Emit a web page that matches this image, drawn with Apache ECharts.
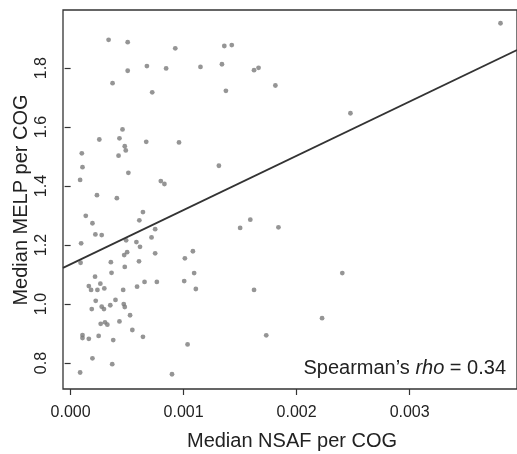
<!DOCTYPE html>
<html>
<head>
<meta charset="utf-8">
<script src="https://cdn.jsdelivr.net/npm/echarts@6/dist/echarts.min.js"></script>
<style>html,body{margin:0;padding:0;background:#fff}#c{width:517px;height:454px}</style>
</head>
<body>
<div id="c"></div>
<script>
// Median NSAF per COG (x) and Median MELP per COG (y)
const nsaf = [0.000336,0.000505,0.000926,0.001360,0.001426,0.000675,0.000505,0.000845,0.001149,0.001339,
0.001623,0.001663,0.000371,0.000722,0.001374,0.001812,0.000459,0.000254,0.000432,0.000669,
0.000959,0.000479,0.000488,0.000099,0.000424,0.000105,0.001312,0.000511,0.000084,0.000798,
0.000830,0.000233,0.000409,0.000134,0.000193,0.000640,0.000608,0.000748,0.000219,0.000275,
0.000093,0.000491,0.000582,0.000716,0.000614,0.000500,0.000474,0.000748,0.000088,0.000356,
0.000605,0.001011,0.001082,0.001500,0.001590,0.001839,0.000479,0.000362,0.001093,0.000216,
0.000161,0.000181,0.000237,0.000263,0.000298,0.000465,0.000588,0.000654,0.000763,0.001005,
0.001108,0.001623,0.000222,0.000397,0.000187,0.000275,0.000295,0.000351,0.000470,0.000479,
0.000526,0.000266,0.000304,0.000325,0.000432,0.000546,0.000105,0.000105,0.000161,0.000248,
0.000377,0.000640,0.001035,0.001731,0.000193,0.000368,0.000084,0.000897,0.003804,0.002476,
0.002404,0.002225];
const melp = [1.896,1.888,1.867,1.875,1.878,1.807,1.791,1.799,1.804,1.813,
1.793,1.801,1.749,1.718,1.723,1.741,1.592,1.558,1.562,1.550,
1.548,1.535,1.521,1.511,1.503,1.464,1.469,1.445,1.421,1.417,
1.407,1.369,1.359,1.299,1.274,1.312,1.284,1.254,1.236,1.234,
1.206,1.216,1.210,1.226,1.194,1.176,1.166,1.172,1.140,1.142,
1.145,1.155,1.179,1.258,1.286,1.260,1.126,1.106,1.105,1.093,
1.061,1.048,1.048,1.069,1.053,1.048,1.059,1.075,1.075,1.078,
1.051,1.048,1.011,1.014,0.983,0.991,0.983,0.996,1.000,0.990,
0.962,0.933,0.938,0.930,0.941,0.912,0.895,0.885,0.882,0.892,
0.878,0.889,0.863,0.894,0.816,0.796,0.768,0.762,1.952,1.647,
1.105,0.952];
// Linear fit: intercept, slope
const fitIntercept = 1.135;
const fitSlope = 183.8;
const xTicks = [0, 0.001, 0.002, 0.003];
const yTicks = [0.8, 1.0, 1.2, 1.4, 1.6, 1.8];
const rhoText = '0.34';

const xMin = -0.0000675, xMax = 0.003950;
const yMin = 0.712, yMax = 1.997;

const pts = nsaf.map((x, i) => [x, melp[i]]);
const fitLine = [[xMin, fitIntercept + fitSlope * xMin], [xMax, fitIntercept + fitSlope * xMax]];

const chart = echarts.init(document.getElementById('c'), null, {renderer: 'canvas'});
const FONT = 'Liberation Sans, Arial, Helvetica, sans-serif';
chart.setOption({
  animation: false,
  backgroundColor: '#fff',
  grid: {left: 63, top: 10, width: 458, height: 379, show: true, borderColor: '#333', borderWidth: 1.3, backgroundColor: 'transparent'},
  xAxis: {
    type: 'value', min: xMin, max: xMax,
    axisLine: {show: false},
    splitLine: {show: false},
    axisTick: {show: true, inside: false, length: 6, lineStyle: {color: '#333', width: 1.2}, customValues: xTicks},
    axisLabel: {customValues: xTicks, formatter: v => v.toFixed(3), margin: 16, fontSize: 16, color: '#222', fontFamily: FONT}
  },
  yAxis: {
    type: 'value', min: yMin, max: yMax,
    axisLine: {show: false},
    splitLine: {show: false},
    axisTick: {show: true, inside: false, length: 6, lineStyle: {color: '#333', width: 1.2}, customValues: yTicks},
    axisLabel: {customValues: yTicks, formatter: v => v.toFixed(1), rotate: 90, margin: 13, fontSize: 16, color: '#222', fontFamily: FONT}
  },
  graphic: [
    {type: 'text', x: 292, y: 441, style: {text: 'Median NSAF per COG', font: '20px ' + FONT, fill: '#222', textAlign: 'center', textVerticalAlign: 'middle'}},
    {type: 'text', x: 21, y: 200, rotation: Math.PI / 2, style: {text: 'Median MELP per COG', font: '20px ' + FONT, fill: '#222', textAlign: 'center', textVerticalAlign: 'middle'}},
    {type: 'text', right: 11, top: 358, style: {
      text: '{a|Spearman\u2019s }{b|rho}{a| = ' + rhoText + '}',
      rich: {a: {fontSize: 20, fontFamily: FONT, fill: '#222', color: '#222'}, b: {fontSize: 20, fontFamily: FONT, fontStyle: 'italic', fill: '#222', color: '#222'}}
    }}
  ],
  series: [
    {type: 'scatter', data: pts, symbol: 'circle', symbolSize: 4.8, itemStyle: {color: '#7a7a7a'}, z: 2},
    {type: 'line', data: fitLine, showSymbol: false, symbol: 'none', lineStyle: {color: '#333', width: 1.8}, z: 3}
  ]
});
</script>
</body>
</html>
